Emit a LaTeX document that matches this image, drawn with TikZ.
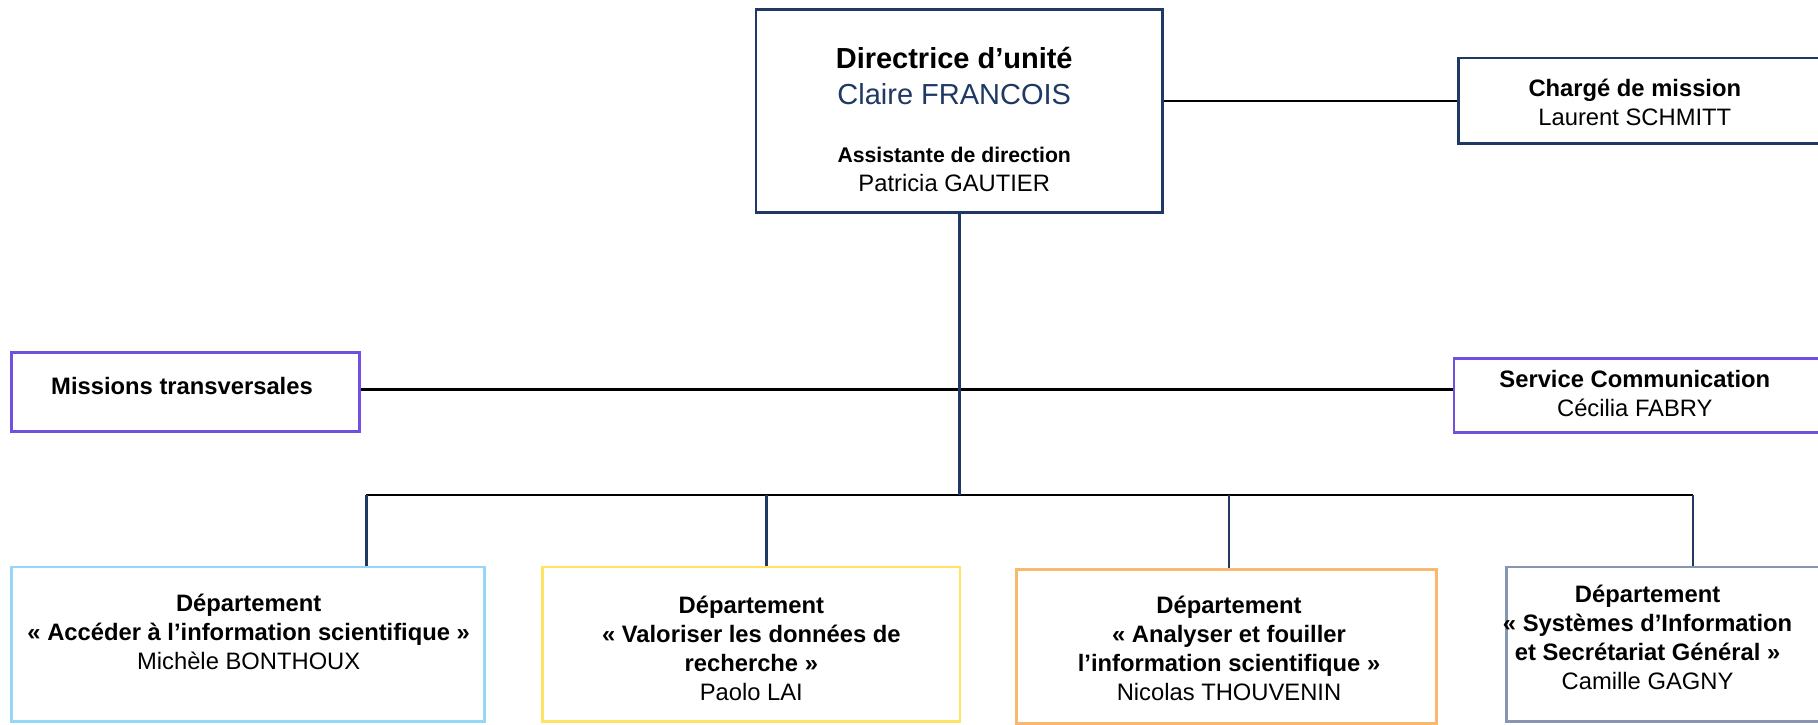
\documentclass[tikz,border=0pt]{standalone}
\usepackage{fontspec}
\setmainfont{Liberation Sans}
\definecolor{navy}{RGB}{31,56,100}
\definecolor{purp}{RGB}{112,80,224}
\definecolor{skyb}{RGB}{150,214,248}
\definecolor{yell}{RGB}{255,228,100}
\definecolor{oran}{RGB}{248,184,112}
\definecolor{grayb}{RGB}{132,150,176}
\tikzset{
  box/.style={rectangle, draw, line width=2.5pt, inner sep=0pt},
  txt/.style={inner sep=0pt, align=center, font=\fontsize{20.5}{25}\selectfont},
  hline/.style={line width=2pt, black},
  vline/.style={line width=2pt, navy},
}
\begin{document}
\begin{tikzpicture}[x=1pt,y=-1pt]
\useasboundingbox (0,0) rectangle (1568,624.45);
\clip (0,0) rectangle (1568,624.45);
% boxes
\node[box, draw=navy, minimum width=351pt, minimum height=175pt] (dir) at (827.5,95.5) {};
\node[box, draw=navy, minimum width=362pt, minimum height=74pt] (charge) at (1439,87) {};
\node[box, draw=purp, minimum width=300pt, minimum height=68pt] (miss) at (160,338) {};
\node[box, draw=purp, minimum width=366pt, minimum height=64pt] (serv) at (1437,341) {};
\node[box, draw=skyb, minimum width=408pt, minimum height=133pt] (acc) at (214,555.5) {};
\node[box, draw=yell, minimum width=360pt, minimum height=133pt] (val) at (648,555.5) {};
\node[box, draw=oran, minimum width=362pt, minimum height=133pt] (ana) at (1058,557.5) {};
\node[box, draw=grayb, minimum width=321pt, minimum height=133pt] (sys) at (1459.5,555.5) {};
% texts
\node[txt, font=\bfseries\fontsize{25}{30}\selectfont] (t1) at (823,50) {Directrice d’unité};
\node[txt, font=\fontsize{25}{30}\selectfont, text=navy] (t2) at (823,81) {Claire FRANCOIS};
\node[txt, font=\bfseries\fontsize{18.3}{22}\selectfont] (t3) at (823,134) {Assistante de direction};
\node[txt] (t4) at (823,158) {Patricia GAUTIER};
\node[txt] (t5) at (1410,88) {\textbf{Chargé de mission}\\Laurent SCHMITT};
\node[txt, font=\bfseries\fontsize{20.5}{25}\selectfont] (t6) at (157,333) {Missions transversales};
\node[txt] (t7) at (1410,339) {\textbf{Service Communication}\\Cécilia FABRY};
\node[txt] (t8) at (214.5,545) {\textbf{Département}\\\textbf{« Accéder à l’information scientifique »}\\Michèle BONTHOUX};
\node[txt] (t9) at (648,559) {\textbf{Département}\\\textbf{« Valoriser les données de}\\\textbf{recherche »}\\Paolo LAI};
\node[txt] (t10) at (1060,559.5) {\textbf{Département}\\\textbf{« Analyser et fouiller}\\\textbf{l’information scientifique »}\\Nicolas THOUVENIN};
\node[txt] (t11) at (1421,550) {\textbf{Département}\\\textbf{« Systèmes d’Information}\\\textbf{et Secrétariat Général »}\\Camille GAGNY};
% connector points
\coordinate (mid) at (827.5,336);
\coordinate (bus) at (827.5,427);
\coordinate (d1) at (316,427);
\coordinate (d2) at (661,427);
\coordinate (d3) at (1060,427);
\coordinate (d4) at (1460,427);
% connectors
\draw[hline] (dir.east |- charge.west) -- (charge.west);
\draw[hline] (miss.east |- mid) -- (serv.west |- mid);
\draw[hline] (d1) -- (d4);
\draw[vline] (dir.south) -- (bus);
\draw[vline] (d1) -- (acc.north -| d1);
\draw[vline] (d2) -- (val.north -| d2);
\draw[vline] (d3) -- (ana.north -| d3);
\draw[vline] (d4) -- (sys.north -| d4);
\end{tikzpicture}
\end{document}
